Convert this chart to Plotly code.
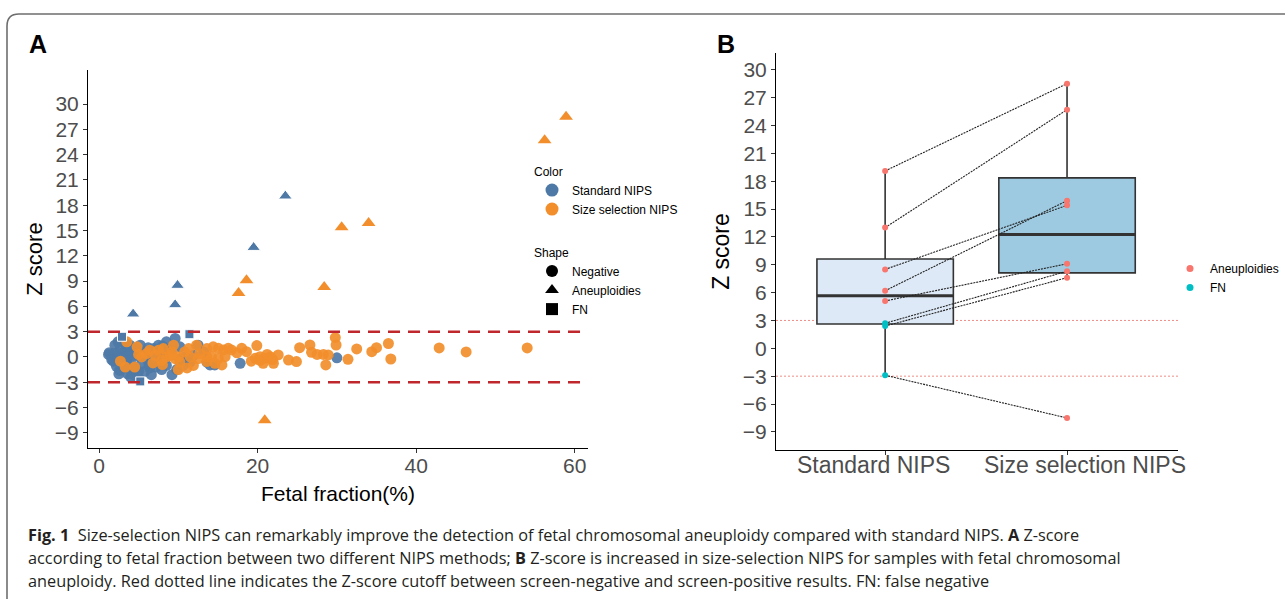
import numpy as np
import plotly.graph_objects as go

# ---------------- Panel A data ----------------
std_neg_ff = [1.3, 1.2, 1.6, 2.0, 2.4, 1.8, 2.2, 2.6, 3.1, 3.5, 3.0, 2.7, 3.3, 3.9, 3.6, 4.1, 4.3, 4.0,
              4.8, 4.6, 5.2, 5.0, 5.4, 5.6, 5.8, 6.0, 6.2, 6.4, 6.6, 4.3, 3.9, 6.9, 7.0, 7.3, 7.5, 7.7,
              7.9, 7.9, 8.2, 8.5, 8.5, 8.8, 9.2, 9.2, 9.6, 9.8, 10.2, 10.2, 10.8, 10.6, 11.5, 11.9,
              12.5, 13.2, 13.6, 14.0, 14.6, 17.8, 30.0, 2.9, 5.9, 6.8, 4.5, 3.4, 7.2, 1.9, 2.5, 3.7,
              6.3, 8.0, 2.4, 5.1, 4.9]
std_neg_z = [0.5, 0.3, -0.3, 1.4, 0.2, -0.5, -1.1, -1.6, -1.3, -0.4, 0.5, 1.0, 1.6, 1.4, -2.0, -0.9, 0.2, -2.4,
             0.8, -1.5, 1.4, -1.7, -0.8, 0.6, -1.7, -0.2, 1.1, -1.3, -2.1, -2.1, -1.5, 1.0, -0.4, -0.6, 1.4, 0.3,
             0.6, -1.5, -0.3, 1.8, -1.0, 0.9, 1.0, -2.1, 2.2, -1.5, 1.2, -0.2, 0.0, -1.0, -0.6, 0.2,
             1.4, 0.6, -0.6, -0.95, -0.95, -0.75, -0.1, -0.6, 0.2, 0.5, 1.0, 0.8, -1.2, 0.4, -2.0, 0.2,
             -0.8, 1.3, 1.8, -2.6, 0.1]

size_neg_ff = [3.5, 4.8, 3.3, 4.5, 5.4, 6.0, 6.4, 7.1, 7.5, 8.1, 8.5, 9.0, 9.2, 9.6, 10.0, 10.2, 10.8, 11.3,
               11.5, 11.9, 12.3, 12.5, 12.7, 13.6, 13.6, 10.0, 11.1, 14.4, 15.05, 15.7, 16.3, 16.7, 14.2,
               15.05, 15.9, 13.6, 14.6, 15.5, 18.0, 18.6, 19.9, 19.7, 20.3, 20.9, 21.6, 22.6, 20.7, 22.0,
               23.9, 24.9, 25.3, 26.6, 26.8, 27.5, 28.3, 28.9, 29.8, 29.9, 28.6, 31.4, 32.5, 34.4, 35.0,
               36.5, 36.8, 42.9, 46.3, 54.0, 20.3, 21.2, 19.2, 17.4, 21.9, 6.8, 8.0, 2.7, 9.4, 5.0, 7.9]
size_neg_z = [1.8, 1.2, -1.2, -1.2, 0.0, 0.4, 0.8, 0.2, 0.8, 1.0, 0.0, 0.2, 0.6, -0.2, 0.0, -0.6, 0.6, 1.0,
              0.0, -1.0, 1.4, -0.2, 0.4, 1.0, 0.0, -1.5, -1.3, 1.2, 1.03, 0.83, 1.03, 0.83, 0.04,
              -0.16, 0.04, -0.55, -0.75, -0.95, 1.03, 0.63, 1.35, -0.16, 0.04, -0.16, 0.04, 0.24, -0.75, -0.75,
              -0.36, -0.55, 1.1, 1.42, 0.55, 0.3, 0.3, 0.24, 2.3, 1.42, -0.95, -0.28, 0.95, 0.63, 1.1,
              1.6, -0.24, 1.07, 0.6, 1.07, -0.4, 0.3, -0.5, 0.5, -0.3, -0.7, -0.9, -0.5, 1.4, 0.3, -0.4]

# abnormal samples (paired: standard vs size selection)
std_abn_ff = [23.5, 19.5, 9.9, 9.6, 4.3, 11.4, 2.9, 5.2]
std_abn_z = [19.1, 13.0, 8.5, 6.2, 5.1, 2.7, 2.4, -2.9]
std_abn_type = ["Aneuploidies"] * 5 + ["FN"] * 3
size_abn_ff = [58.9, 56.2, 30.6, 34.0, 18.6, 28.4, 17.6, 20.9]
size_abn_z = [28.5, 25.7, 15.4, 15.9, 9.1, 8.3, 7.6, -7.5]

methods = ["Standard NIPS", "Size selection NIPS"]
y_ticks = list(range(-9, 31, 3))
x_ticks_a = [0, 20, 40, 60]
cutoffs = [3, -3]

BLUE = "#4E79A7"
ORANGE = "#F28E2B"
RED = "#F8766D"
CYAN = "#00BFC4"
FONT = "Liberation Sans, Arial, sans-serif"
CAPFONT = "Open Sans"
TICKC = "#4D4D4D"

W, H = 1285, 599


def px(x):
    return x / W


def py(y):
    return 1 - y / H


fig = go.Figure()

# ---------- Panel A traces ----------
fig.add_trace(go.Scatter(x=std_neg_ff, y=std_neg_z, mode="markers", xaxis="x", yaxis="y",
                         marker=dict(color=BLUE, size=11, symbol="circle", opacity=0.92),
                         showlegend=False, hoverinfo="skip"))
fig.add_trace(go.Scatter(x=size_neg_ff, y=size_neg_z, mode="markers", xaxis="x", yaxis="y",
                         marker=dict(color=ORANGE, size=11, symbol="circle", opacity=0.92),
                         showlegend=False, hoverinfo="skip"))

sym_map = {"Aneuploidies": "triangle-up", "FN": "square"}
fig.add_trace(go.Scatter(x=std_abn_ff, y=std_abn_z, mode="markers", xaxis="x", yaxis="y",
                         marker=dict(color=BLUE, opacity=1,
                                     size=[12 if t == "Aneuploidies" else 9 for t in std_abn_type],
                                     symbol=[sym_map[t] for t in std_abn_type]),
                         showlegend=False, hoverinfo="skip"))
fig.add_trace(go.Scatter(x=size_abn_ff, y=size_abn_z, mode="markers", xaxis="x", yaxis="y",
                         marker=dict(color=ORANGE, size=12, symbol="triangle-up", opacity=1),
                         showlegend=False, hoverinfo="skip"))

# Legend entries panel A
for name, col in zip(methods, [BLUE, ORANGE]):
    fig.add_trace(go.Scatter(x=[None], y=[None], mode="markers", name=name, legend="legend",
                             marker=dict(color=col, size=13, symbol="circle")))
for name, sym in zip(["Negative", "Aneuploidies", "FN"], ["circle", "triangle-up", "square"]):
    fig.add_trace(go.Scatter(x=[None], y=[None], mode="markers", name=name, legend="legend2",
                             marker=dict(color="black", size=12, symbol=sym)))

# ---------- Panel B ----------
groups = [std_abn_z, size_abn_z]
fills = ["#DDE9F6", "#9ECAE1"]
for i, vals in enumerate(groups):
    arr = np.array(vals)
    q1, med, q3 = np.percentile(arr, [25, 50, 75])
    iqr = q3 - q1
    lo = arr[arr >= q1 - 1.5 * iqr].min()
    hi = arr[arr <= q3 + 1.5 * iqr].max()
    fig.add_trace(go.Box(x=[i], q1=[q1], median=[med], q3=[q3], lowerfence=[lo], upperfence=[hi],
                         xaxis="x2", yaxis="y2", width=0.75, whiskerwidth=0,
                         fillcolor=fills[i], line=dict(color="#333333", width=1.6),
                         boxpoints=False, showlegend=False, hoverinfo="skip"))
    fig.add_trace(go.Scatter(x=[i - 0.375, i + 0.375], y=[med, med], mode="lines", xaxis="x2", yaxis="y2",
                             line=dict(color="#333333", width=3), showlegend=False, hoverinfo="skip"))

# paired connecting lines
lx, ly = [], []
for a, b in zip(std_abn_z, size_abn_z):
    lx += [0, 1, None]
    ly += [a, b, None]
fig.add_trace(go.Scatter(x=lx, y=ly, mode="lines", xaxis="x2", yaxis="y2",
                         line=dict(color="#222222", width=1.1, dash="2px,1px"),
                         showlegend=False, hoverinfo="skip"))

cols_b = [RED if t == "Aneuploidies" else CYAN for t in std_abn_type]
fig.add_trace(go.Scatter(x=[0] * len(std_abn_z), y=std_abn_z, mode="markers", xaxis="x2", yaxis="y2",
                         marker=dict(color=cols_b, size=6), showlegend=False, hoverinfo="skip"))
fig.add_trace(go.Scatter(x=[1] * len(size_abn_z), y=size_abn_z, mode="markers", xaxis="x2", yaxis="y2",
                         marker=dict(color=RED, size=6), showlegend=False, hoverinfo="skip"))

for name, col in zip(["Aneuploidies", "FN"], [RED, CYAN]):
    fig.add_trace(go.Scatter(x=[None], y=[None], mode="markers", name=name, legend="legend3",
                             marker=dict(color=col, size=7)))

# cutoff lines
shapes = []
for c in cutoffs:
    shapes.append(dict(type="line", xref="x domain", yref="y", x0=0, x1=1, y0=c, y1=c,
                       line=dict(color="#C0272D", width=2.6, dash="12px,8px"), layer="above"))
    shapes.append(dict(type="line", xref="x2 domain", yref="y2", x0=0, x1=1, y0=c, y1=c,
                       line=dict(color="#F08C84", width=1, dash="2px,2px"), layer="below"))

# figure border (rounded top-left)
path = (f"M {px(7)},{py(605)} L {px(7)},{py(26)} Q {px(7)},{py(14)} {px(19)},{py(14)} "
        f"L {px(1290)},{py(14)}")
shapes.append(dict(type="path", xref="paper", yref="paper", path=path,
                   line=dict(color="#6E6E6E", width=1.6)))

axis_common = dict(showline=True, linecolor="black", linewidth=1, ticks="outside", ticklen=4,
                   tickcolor="#333333", showgrid=False, zeroline=False,
                   tickfont=dict(family=FONT, size=21, color=TICKC))

annotations = [
    dict(text="<b>A</b>", x=px(27), y=py(44), xref="paper", yref="paper", xanchor="left",
         yanchor="middle", showarrow=False, font=dict(size=25, family=FONT, color="black")),
    dict(text="<b>B</b>", x=px(715), y=py(44), xref="paper", yref="paper", xanchor="left",
         yanchor="middle", showarrow=False, font=dict(size=25, family=FONT, color="black")),
]
# panel B category labels (placed as in the reference)
for i, (m, shift) in enumerate(zip(methods, [-12, 18])):
    annotations.append(dict(text=m, x=i, xref="x2", y=py(465), yref="paper", xanchor="center",
                            yanchor="middle", xshift=shift, showarrow=False,
                            font=dict(size=23, family=FONT, color=TICKC)))

caption = [
    "<b>Fig. 1</b>  Size-selection NIPS can remarkably improve the detection of fetal chromosomal "
    "aneuploidy compared with standard NIPS. <b>A</b> Z-score",
    "according to fetal fraction between two different NIPS methods; <b>B</b> Z-score is increased "
    "in size-selection NIPS for samples with fetal chromosomal",
    "aneuploidy. Red dotted line indicates the Z-score cutoff between screen-negative and "
    "screen-positive results. FN: false negative",
]
for line, yy in zip(caption, [535, 558, 581]):
    annotations.append(dict(text=line, x=px(26), y=py(yy), xref="paper", yref="paper", xanchor="left",
                            yanchor="middle", showarrow=False,
                            font=dict(size=16.3, family=CAPFONT, color="#231F20")))

fig.update_layout(
    width=W, height=H, autosize=False,
    margin=dict(l=0, r=0, t=0, b=0),
    paper_bgcolor="white", plot_bgcolor="white",
    font=dict(family=FONT, color="black"),
    xaxis=dict(domain=[px(88), px(588)], range=[-1.39, 61.67], tickvals=x_ticks_a,
               anchor="y", ticklabelstandoff=-5,
               title=dict(text="Fetal fraction(%)", font=dict(size=21), standoff=10),
               **axis_common),
    yaxis=dict(domain=[py(448), py(70)], range=[-10.8, 34.05], tickvals=y_ticks,
               ticktext=[str(v).replace("-", "\u2212") for v in y_ticks],
               anchor="x", title=dict(text="Z score", font=dict(size=22), standoff=6),
               **axis_common),
    xaxis2=dict(domain=[px(776), px(1178)], range=[-0.6, 1.61], tickvals=[0, 1], ticktext=["", ""],
                anchor="y2", **axis_common),
    yaxis2=dict(domain=[py(450), py(53)], range=[-10.95, 31.8], tickvals=y_ticks,
                ticktext=[str(v).replace("-", "\u2212") for v in y_ticks],
                anchor="x2", title=dict(text="Z score", font=dict(size=23), standoff=6),
                **axis_common),
    shapes=shapes,
    legend=dict(x=px(532), y=py(160), xanchor="left", yanchor="top",
                title=dict(text="Color", font=dict(size=12)), font=dict(size=12, family=FONT),
                bgcolor="rgba(0,0,0,0)", tracegroupgap=0, itemsizing="trace"),
    legend2=dict(x=px(532), y=py(241), xanchor="left", yanchor="top",
                 title=dict(text="Shape", font=dict(size=12)), font=dict(size=12, family=FONT),
                 bgcolor="rgba(0,0,0,0)", tracegroupgap=0, itemsizing="trace"),
    legend3=dict(x=px(1170), y=py(254), xanchor="left", yanchor="top",
                 font=dict(size=12, family=FONT), bgcolor="rgba(0,0,0,0)", tracegroupgap=0),
    annotations=annotations,
)

fig.write_html("out.html")
